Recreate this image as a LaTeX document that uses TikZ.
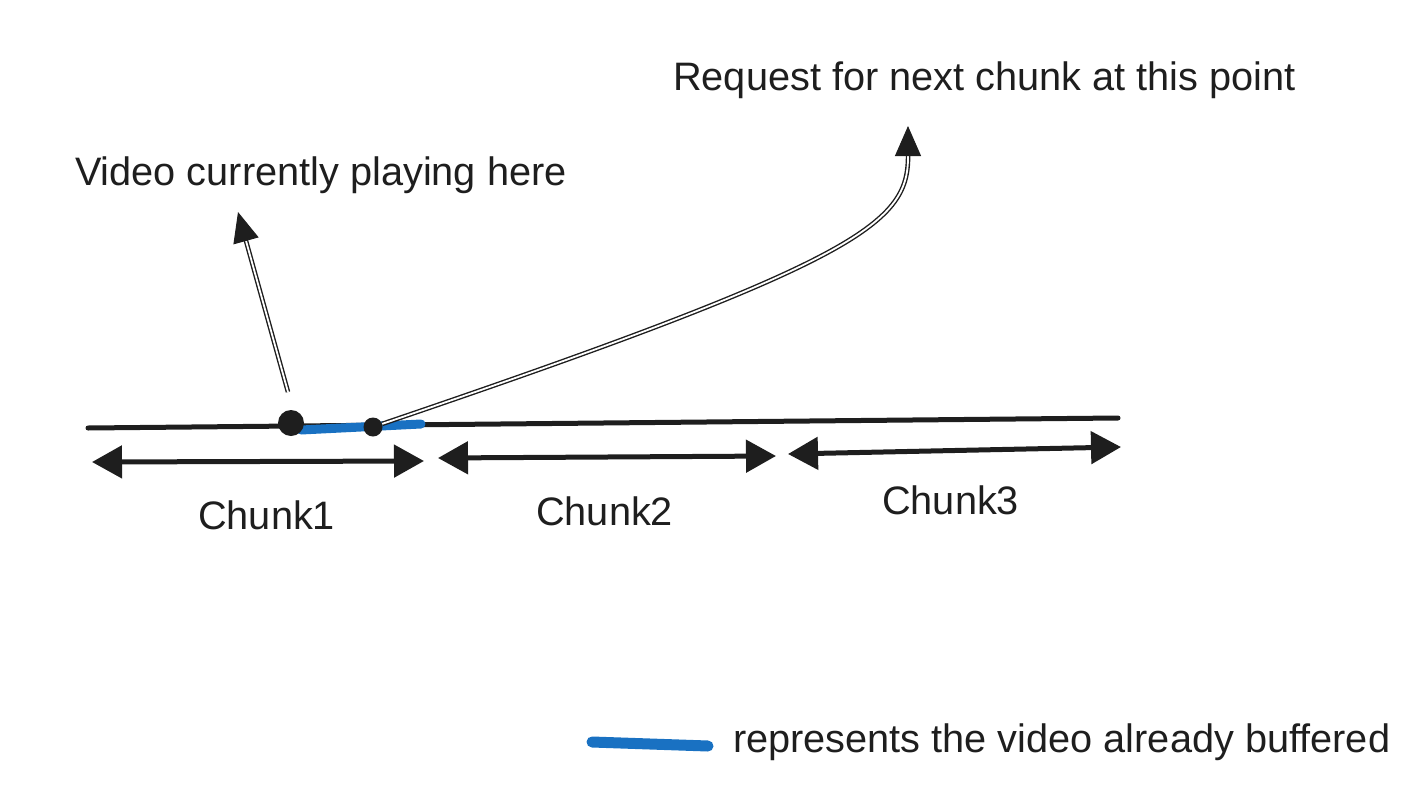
\documentclass[tikz,border=0pt]{standalone}
\usepackage{fontspec}
\setmainfont{Liberation Sans}
\usetikzlibrary{arrows.meta,calc}
\definecolor{ink}{HTML}{1E1E1E}
\definecolor{buf}{HTML}{1971C2}
\tikzset{
  lbl/.style={anchor=base west,inner sep=0pt,text=ink,font=\fontsize{39.7}{48}\selectfont},
  timeline/.style={draw=ink,line width=5pt,line cap=round},
  chunkarrow/.style={draw=ink,line width=5pt,{Triangle[length=30pt,width=32pt]}-{Triangle[length=30pt,width=32pt]}},
  bufstroke/.style={draw=buf,line width=9pt,line cap=round},
  dotmark/.style={circle,fill=ink,inner sep=0pt},
  dblshaft/.style={draw=ink,double=white,double distance=1.8pt,line width=1.4pt},
  headtip/.style={draw=ink,fill=ink,line width=1pt,-{Triangle[length=30pt,width=26pt]}}
}
\begin{document}
\begin{tikzpicture}[x=1pt,y=-1pt]
\useasboundingbox (0,0) rectangle (1422,806);
% timeline
\coordinate (tlA) at (88,428);
\coordinate (tlB) at (1118,418);
\draw[timeline] (tlA) -- (tlB);
% buffered stroke
\coordinate (bA) at (301,430);
\coordinate (bB) at (421,424);
\draw[bufstroke] (bA) -- (bB);
% dots
\node[dotmark,minimum size=26pt] (play) at (291,423) {};
\node[dotmark,minimum size=19pt] (req) at (373,427) {};
% chunk arrows
\coordinate (c1A) at (92,462);
\coordinate (c1B) at (424,461);
\coordinate (c2A) at (438,458);
\coordinate (c2B) at (776,456);
\coordinate (c3A) at (788,454);
\coordinate (c3B) at (1121,447);
\draw[chunkarrow] (c1A) -- (c1B);
\draw[chunkarrow] (c2A) -- (c2B);
\draw[chunkarrow] (c3A) -- (c3B);
% labels
\node[lbl] (t1) at (198,529) {Chunk1};
\node[lbl] (t2) at (536,525) {Chunk2};
\node[lbl] (t3) at (882,514) {Chunk3};
\node[lbl] (tplay) at (75,185) {Video currently playing here};
\node[lbl] (treq) at (673,90) {Request for next chunk at this point};
\node[lbl] (tleg) at (733,752) {represents the video already buffered};
% playing arrow
\coordinate (pS) at (288,392);
\coordinate (pT) at (238,212);
\coordinate (pM) at ($(pT)!24pt!(pS)$);
\coordinate (pN) at ($(pT)!4pt!(pS)$);
\draw[dblshaft] (pS) -- (pM);
\draw[headtip] (pN) -- (pT);
% request arrow
\coordinate (rT) at (908,126);
\coordinate (rM) at (908,150);
\coordinate (rN) at (908,130);
\draw[dblshaft] (req) .. controls (880,255) and (910,220) .. (rM);
\draw[headtip] (rN) -- (rT);
% legend
\coordinate (lA) at (592,742);
\coordinate (lB) at (708,746);
\draw[bufstroke,line width=11pt] (lA) -- (lB);
\end{tikzpicture}
\end{document}
